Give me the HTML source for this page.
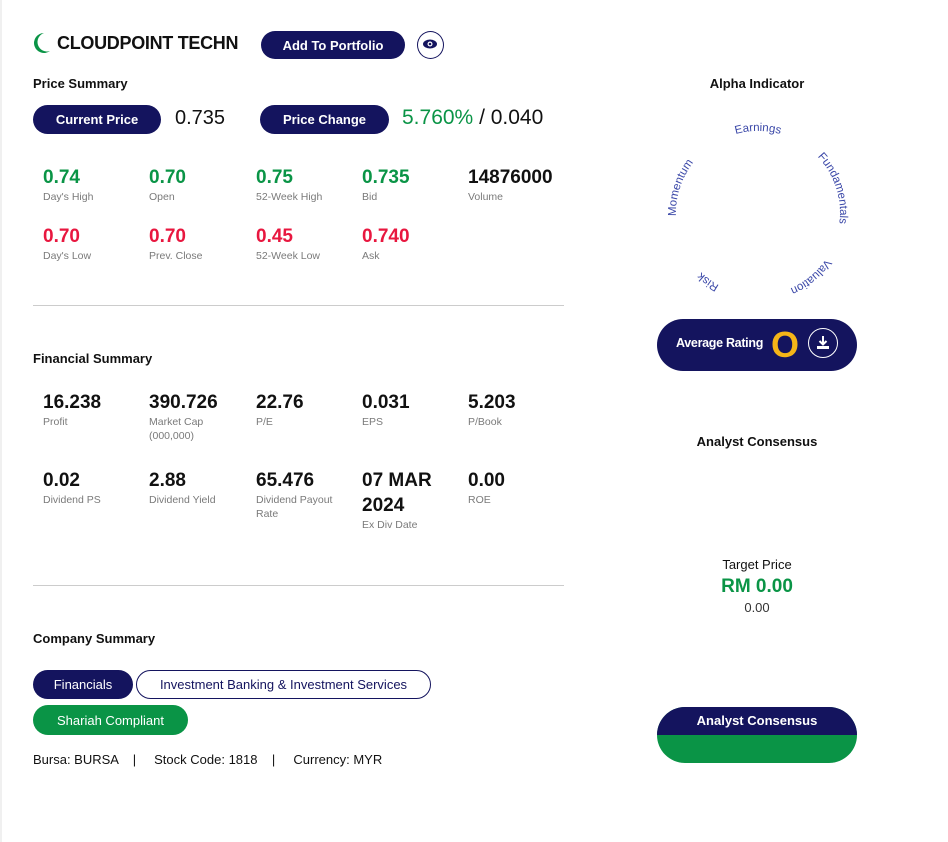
<!DOCTYPE html>
<html><head><meta charset="utf-8"><style>
body{margin:0;width:948px;height:842px;background:#fff;font-family:"Liberation Sans",sans-serif;position:relative;overflow:hidden;color:#111}
.a{position:absolute;white-space:nowrap}
.btn{position:absolute;background:#14145e;color:#fff;border-radius:16px;font-weight:bold;font-size:13px;display:flex;align-items:center;justify-content:center}
.v{position:absolute;font-size:19px;font-weight:bold;line-height:20px}
.l{position:absolute;font-size:10.5px;color:#7a7a7a;line-height:14px}
.g{color:#0a9446}.r{color:#e8173f}
.h{position:absolute;font-size:13px;font-weight:bold}
.hr{position:absolute;left:33px;width:531px;height:1px;background:#ccc}
</style></head><body>
<div style="position:absolute;left:0;top:0;width:2px;height:842px;background:#f0f0f0"></div>
<svg class="a" style="left:32px;top:32px" width="20" height="22"><path d="M12 1 A10 10 0 1 0 18 19 A7 7 0 1 1 12 1Z" fill="#0a9446"/></svg>
<div class="a" style="left:57px;top:33px;font-size:18px;font-weight:bold;letter-spacing:-0.3px">CLOUDPOINT TECHN</div>
<div class="btn" style="left:261px;top:31px;width:144px;height:28px">Add To Portfolio</div>
<div class="a" style="left:417px;top:31px;width:25px;height:26px;border:1px solid #14145e;border-radius:50%"></div>
<svg class="a" style="left:422px;top:38px" width="16" height="12"><ellipse cx="8" cy="6" rx="7" ry="4.5" fill="#14145e"/><circle cx="8" cy="6" r="2.5" fill="#fff"/><circle cx="8" cy="6" r="1.3" fill="#14145e"/></svg>

<div class="h" style="left:33px;top:76px">Price Summary</div>
<div class="btn" style="left:33px;top:105px;width:128px;height:29px">Current Price</div>
<div class="a" style="left:175px;top:107px;font-size:20px">0.735</div>
<div class="btn" style="left:260px;top:105px;width:129px;height:29px">Price Change</div>
<div class="a" style="left:402px;top:106px;font-size:21px"><span class="g">5.760%</span> / 0.040</div>

<div class="v g" style="left:43px;top:168px">0.74</div><div class="l" style="left:43px;top:190px">Day's High</div>
<div class="v g" style="left:149px;top:168px">0.70</div><div class="l" style="left:149px;top:190px">Open</div>
<div class="v g" style="left:256px;top:168px">0.75</div><div class="l" style="left:256px;top:190px">52-Week High</div>
<div class="v g" style="left:362px;top:168px">0.735</div><div class="l" style="left:362px;top:190px">Bid</div>
<div class="v" style="left:468px;top:168px">14876000</div><div class="l" style="left:468px;top:190px">Volume</div>
<div class="v r" style="left:43px;top:227px">0.70</div><div class="l" style="left:43px;top:249px">Day's Low</div>
<div class="v r" style="left:149px;top:227px">0.70</div><div class="l" style="left:149px;top:249px">Prev. Close</div>
<div class="v r" style="left:256px;top:227px">0.45</div><div class="l" style="left:256px;top:249px">52-Week Low</div>
<div class="v r" style="left:362px;top:227px">0.740</div><div class="l" style="left:362px;top:249px">Ask</div>
<div class="hr" style="top:305px"></div>

<div class="h" style="left:33px;top:351px">Financial Summary</div>
<div class="v" style="left:43px;top:393px">16.238</div><div class="l" style="left:43px;top:415px">Profit</div>
<div class="v" style="left:149px;top:393px">390.726</div><div class="l" style="left:149px;top:415px">Market Cap<br>(000,000)</div>
<div class="v" style="left:256px;top:393px">22.76</div><div class="l" style="left:256px;top:415px">P/E</div>
<div class="v" style="left:362px;top:393px">0.031</div><div class="l" style="left:362px;top:415px">EPS</div>
<div class="v" style="left:468px;top:393px">5.203</div><div class="l" style="left:468px;top:415px">P/Book</div>
<div class="v" style="left:43px;top:471px">0.02</div><div class="l" style="left:43px;top:493px">Dividend PS</div>
<div class="v" style="left:149px;top:471px">2.88</div><div class="l" style="left:149px;top:493px">Dividend Yield</div>
<div class="v" style="left:256px;top:471px">65.476</div><div class="l" style="left:256px;top:493px">Dividend Payout<br>Rate</div>
<div class="v" style="left:362px;top:468px;line-height:25px">07 MAR<br>2024</div><div class="l" style="left:362px;top:518px">Ex Div Date</div>
<div class="v" style="left:468px;top:471px">0.00</div><div class="l" style="left:468px;top:493px">ROE</div>
<div class="hr" style="top:585px"></div>

<div class="h" style="left:33px;top:631px">Company Summary</div>
<div class="btn" style="left:33px;top:670px;width:100px;height:29px;font-weight:normal">Financials</div>
<div class="btn" style="left:136px;top:670px;width:293px;height:27px;background:#fff;color:#14145e;border:1px solid #14145e;font-weight:normal">Investment Banking &amp; Investment Services</div>
<div class="btn" style="left:33px;top:705px;width:155px;height:30px;background:#0a9446;font-weight:normal">Shariah Compliant</div>
<div class="a" style="left:33px;top:752px;font-size:13px">Bursa: BURSA &nbsp;&nbsp;&nbsp;| &nbsp;&nbsp;&nbsp;&nbsp;Stock Code: 1818 &nbsp;&nbsp;&nbsp;| &nbsp;&nbsp;&nbsp;&nbsp;Currency: MYR</div>

<div class="h" style="left:657px;width:200px;text-align:center;top:76px">Alpha Indicator</div>
<svg class="a" style="left:658px;top:113px" width="200" height="200">
<defs><path id="c" d="M100 182 A82 82 0 1 1 100 18 A82 82 0 1 1 100 182"/></defs>
<g font-size="11.5" fill="#3b48a8" font-family="Liberation Sans,sans-serif">
<text><textPath href="#c" startOffset="50%" text-anchor="middle">Earnings</textPath></text>
<text><textPath href="#c" startOffset="70%" text-anchor="middle">Fundamentals</textPath></text>
<text><textPath href="#c" startOffset="89%" text-anchor="middle">Valuation</textPath></text>
<text><textPath href="#c" startOffset="10%" text-anchor="middle">Risk</textPath></text>
<text><textPath href="#c" startOffset="30%" text-anchor="middle">Momentum</textPath></text>
</g></svg>
<div class="a" style="left:657px;top:319px;width:200px;height:52px;border-radius:26px;background:#14145e"></div>
<div class="a" style="left:676px;top:336px;color:#fff;font-size:12.5px;font-weight:bold;letter-spacing:-0.3px">Average Rating</div>
<div class="a" style="left:771px;top:324px;color:#f5b518;font-size:36px;font-weight:bold">O</div>
<div class="a" style="left:808px;top:328px;width:28px;height:28px;border:1.5px solid #fff;border-radius:50%"></div>
<svg class="a" style="left:815px;top:335px" width="16" height="16"><path d="M8 1v8M4.5 6 8 9.5 11.5 6" stroke="#fff" stroke-width="2" fill="none"/><rect x="2" y="11" width="12" height="3" fill="#fff"/></svg>

<div class="h" style="left:657px;width:200px;text-align:center;top:434px">Analyst Consensus</div>
<div class="a" style="left:657px;width:200px;text-align:center;top:557px;font-size:13px">Target Price</div>
<div class="a g" style="left:657px;width:200px;text-align:center;top:576px;font-size:19px;font-weight:bold">RM 0.00</div>
<div class="a" style="left:657px;width:200px;text-align:center;top:600px;font-size:13px;color:#333">0.00</div>
<div class="a" style="left:657px;top:707px;width:200px;height:56px;border-radius:28px;overflow:hidden;background:#0a9446"><div style="height:28px;background:#14145e;color:#fff;font-size:13px;font-weight:bold;text-align:center;line-height:28px">Analyst Consensus</div></div>
</body></html>
